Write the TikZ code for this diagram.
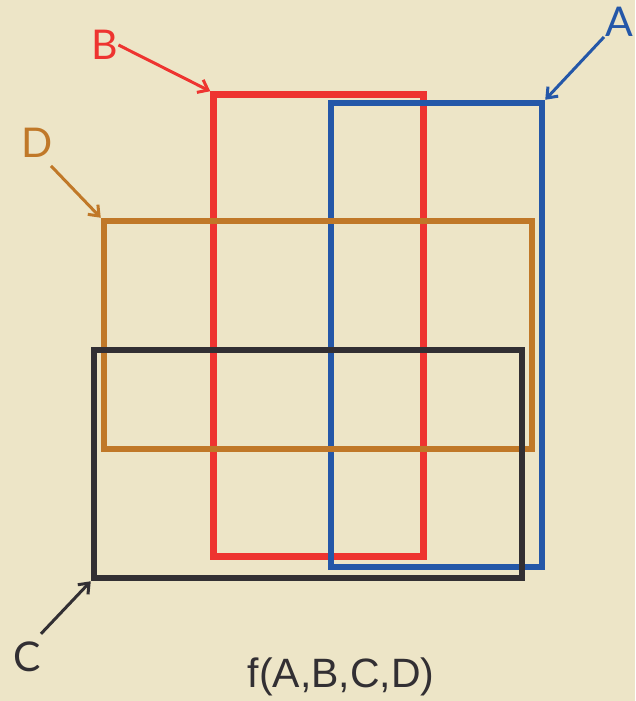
\documentclass[tikz,border=0pt]{standalone}
\usepackage{fontspec}
\setmainfont{Lato}
\newfontfamily\funcfont{Liberation Sans}
\usetikzlibrary{arrows.meta}

\definecolor{paper}{RGB}{237,229,199}
\definecolor{setA}{RGB}{36,87,168}
\definecolor{setB}{RGB}{238,52,48}
\definecolor{setC}{RGB}{50,47,51}
\definecolor{setD}{RGB}{192,120,40}

\begin{document}
\begin{tikzpicture}[
    x=1pt, y=-1pt,
    region/.style={rectangle, draw, line width=6.5pt, inner sep=0pt},
    letter/.style={inner sep=0pt, font=\fontsize{41}{48}\selectfont},
    pointer/.style={line width=3pt, -{Straight Barb[length=9pt, width=14pt]}},
]

% Background
\fill[paper] (0,0) rectangle (635,701);
\useasboundingbox (0,0) rectangle (635,701);

% Regions (drawn bottom to top)
\node[region, draw=setB, minimum width=210pt, minimum height=462pt] (B) at (318.5,325.5) {};
\node[region, draw=setA, minimum width=211pt, minimum height=464pt] (A) at (436.5,335) {};
\node[region, draw=setD, minimum width=428pt, minimum height=228pt] (D) at (318,335) {};
\node[region, draw=setC, minimum width=428pt, minimum height=228pt] (C) at (308,464) {};

% Labels
\node[letter, text=setB] (labB) at (105,45) {B};
\node[letter, text=setA, anchor=east] (labA) at (633,22) {A};
\node[letter, text=setD] (labD) at (37,143) {D};
\node[letter, text=setC] (labC) at (27,657) {C};
\coordinate (tailA) at (604,37);

% Pointers
\draw[pointer, setB] (labB.east) -- (B.north west);
\draw[pointer, setA] (tailA) -- (A.north east);
\draw[pointer, setD] ([xshift=14pt, yshift=-8pt]labD.south) -- (D.north west);
\draw[pointer, setC] ([xshift=14pt, yshift=8pt]labC.north) -- (C.south west);

% Function name
\node[font=\funcfont\fontsize{41}{48}\selectfont, text=setC, inner sep=0pt] (func) at (341,677) {f(A,B,C,D)};

\end{tikzpicture}
\end{document}
